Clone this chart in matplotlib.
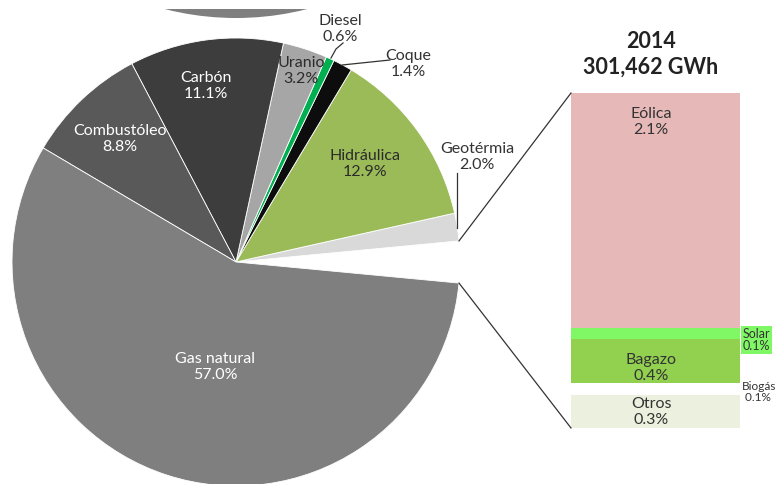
import numpy as np
import matplotlib.pyplot as plt
from matplotlib.patches import Circle, Rectangle

plt.rcParams['font.family'] = ['Lato', 'DejaVu Sans']

# generación por fuente (% del total), en el orden del pastel
fuentes = ['Geotérmia', 'Hidráulica', 'Coque', 'Diesel', 'Uranio', 'Carbón', 'Combustóleo', 'Gas natural']
porcentajes = [2.0, 12.9, 1.4, 0.6, 3.2, 11.1, 8.8, 57.0]
colores = ['#d9d9d9', '#9bbb59', '#0d0d0d', '#00b050', '#a6a6a6', '#3d3d3d', '#595959', '#7f7f7f']

# desglose de las otras renovables (barra de la derecha)
renovables = ['Eólica', 'Solar', 'Bagazo', 'Biogás', 'Otros']
renov_pct = [2.1, 0.1, 0.4, 0.1, 0.3]
renov_colores = ['#e6b9b8', '#80f866', '#92d050', '#ffffff', '#ebf1de']

anio = '2014'
total_gwh = '301,462 GWh'

W, H = 775, 484
fig = plt.figure(figsize=(W / 100, H / 100), dpi=100)
ax = fig.add_axes([0, 0, 1, 1])
ax.set_zorder(3)

# pastel: el hueco a la derecha corresponde a las otras renovables
cx, cy, r = 236, H - 262, 224
hueco = sum(renov_pct)
vals = [hueco] + porcentajes
cols = ['none'] + colores
wedges, _ = ax.pie(vals, colors=cols, startangle=-hueco / 100 * 180, counterclock=True,
                   center=(cx, cy), radius=r, frame=True,
                   wedgeprops=dict(linewidth=0.6, edgecolor='white'))
wedges[0].set_visible(False)

# borde de otro gráfico que asoma arriba
arco = Circle((cx, H - 18 + 288), 288, color='#7f7f7f', lw=0)
ax.add_patch(arco)
arco.set_clip_path(Rectangle((0, 0), W, H - 9, transform=ax.transData))

ax.set_xlim(0, W)
ax.set_ylim(0, H)
ax.set_aspect('auto')
ax.axis('off')

# barra apilada
bx0, bx1, btop, bbot = 571, 740, H - 93, H - 428
ax2 = fig.add_axes([bx0 / W, bbot / H, (bx1 - bx0) / W, (btop - bbot) / H])
ax2.set_zorder(1)
acum = 0
for v, c in zip(renov_pct, renov_colores):
    ax2.bar(0, v, bottom=acum, width=1, color=c, linewidth=0)
    acum += v
ax2.set_xlim(-0.5, 0.5)
ax2.set_ylim(hueco, 0)
ax2.axis('off')

# líneas de conexión pastel -> barra
ang = np.deg2rad(hueco / 100 * 180)
px = cx + r * np.cos(ang)
ax.plot([px, bx0], [cy + r * np.sin(ang), btop], color='#333333', lw=0.9)
ax.plot([px, bx0], [cy - r * np.sin(ang), bbot], color='#333333', lw=0.9)

def etiqueta(x, y, txt, color='#333333', size=11.5, **kw):
    ax.text(x, H - y, txt, color=color, fontsize=size, ha='center', va='center',
            linespacing=1.1, **kw)

etiqueta(215, 367, 'Gas natural\n57.0%', color='white')
etiqueta(120, 139, 'Combustóleo\n8.8%', color='white')
etiqueta(206, 86, 'Carbón\n11.1%', color='white')
etiqueta(301, 71, 'Uranio\n3.2%', color='#2b2b2b')
etiqueta(365, 164, 'Hidráulica\n12.9%', color='#2b2b2b')
etiqueta(340, 29, 'Diesel\n0.6%')
etiqueta(408, 64, 'Coque\n1.4%')
etiqueta(477, 157, 'Geotérmia\n2.0%')

# líneas guía
ax.plot([331, 336, 343], [H - 58, H - 49, H - 43], color='#333333', lw=0.9)
ax.plot([342, 390], [H - 65, H - 60], color='#333333', lw=0.9)
ax.plot([457, 457], [H - 173, H - 228], color='#333333', lw=0.9)

# etiquetas de la barra
etiqueta(651, 122, 'Eólica\n2.1%')
etiqueta(651, 368, 'Bagazo\n0.4%')
etiqueta(651, 412, 'Otros\n0.3%')
ax.text(743, H - 340, 'Solar\n0.1%', color='#333333', fontsize=9, ha='left', va='center',
        linespacing=1.05, bbox=dict(facecolor=renov_colores[1], edgecolor='none', pad=1.2))
ax.text(742, H - 392, 'Biogás\n 0.1%', color='#333333', fontsize=8.5, ha='left', va='center',
        linespacing=1.05)

# título
ax.text(651, H - 42, anio, fontsize=15.5, ha='center', va='center', color='#222222', fontweight='bold')
ax.text(651, H - 67, total_gwh, fontsize=15.5, ha='center', va='center', color='#222222', fontweight='bold')

fig.savefig('out.png', dpi=100)
